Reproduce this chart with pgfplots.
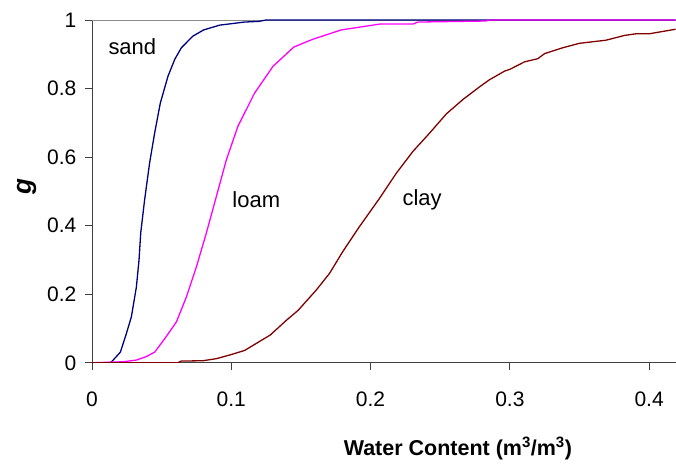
\documentclass[border=0pt]{standalone}
\usepackage{pgfplots}
\pgfplotsset{compat=1.18}
\usepackage{fontspec}
\setmainfont{Liberation Sans}
\usetikzlibrary{calc}
\definecolor{sandc}{RGB}{0,0,128}
\definecolor{loamc}{RGB}{255,0,255}
\definecolor{clayc}{RGB}{128,0,0}
\begin{document}
\begin{tikzpicture}
\begin{axis}[
  scale only axis, width=584pt, height=343pt,
  xmin=0, xmax=0.419, ymin=0, ymax=1,
  axis x line*=bottom, axis y line*=left,
  axis line style={black!75, line width=0.8pt},
  xtick={0,0.1,0.2,0.3,0.4}, xticklabels={0,0.1,0.2,0.3,0.4},
  ytick={0,0.2,0.4,0.6,0.8,1}, yticklabels={0,0.2,0.4,0.6,0.8,1},
  tick align=outside, major tick length=7pt,
  tick style={black!75, line width=0.8pt},
  ticklabel style={font=\fontsize{21}{24}\selectfont},
  xticklabel style={yshift=-19pt},
  yticklabel style={xshift=-5pt},
  xlabel={\textbf{Water Content (m\textsuperscript{3}/m\textsuperscript{3})}},
  xlabel style={at={(axis description cs:0.627,-0.25)}, anchor=center, font=\fontsize{21.5}{24}\selectfont},
  ylabel={\textbf{\textit{g}}},
  ylabel style={at={(axis description cs:-0.112,0.513)}, anchor=center, rotate=0, font=\fontsize{26}{30}\selectfont},
  clip=true,
]
\draw[black!45, line width=0.8pt] (axis cs:0,1) -- (axis cs:0.419,1);
\addplot[sandc, line width=1.3pt] coordinates {
(0,0) (0.012,0) (0.0139,0.002) (0.0204,0.031) (0.0247,0.085) (0.0283,0.134) (0.0319,0.221) (0.0338,0.30) (0.035,0.378) (0.0378,0.475) (0.0414,0.583) (0.045,0.670) (0.0491,0.758) (0.0546,0.836) (0.0594,0.885) (0.0642,0.919) (0.0725,0.953) (0.0802,0.971) (0.0917,0.985) (0.1096,0.994) (0.120,0.996) (0.125,1) (0.42,1)
};
\addplot[loamc, line width=1.3pt] coordinates {
(0,0) (0.0223,0.003) (0.032,0.008) (0.039,0.018) (0.045,0.031) (0.0522,0.070) (0.0606,0.119) (0.0678,0.192) (0.075,0.280) (0.0821,0.378) (0.0893,0.485) (0.0965,0.592) (0.1048,0.690) (0.1168,0.787) (0.130,0.865) (0.1449,0.921) (0.1587,0.944) (0.179,0.971) (0.2065,0.988) (0.2305,0.988) (0.234,0.994) (0.283,0.997) (0.285,1) (0.42,1)
};
\addplot[clayc, line width=1.3pt] coordinates {
(0,0) (0.0617,0) (0.064,0.005) (0.0797,0.006) (0.0893,0.012) (0.100,0.024) (0.1096,0.036) (0.128,0.081) (0.1396,0.124) (0.148,0.153) (0.161,0.212) (0.1706,0.261) (0.180,0.324) (0.192,0.397) (0.2065,0.480) (0.2185,0.553) (0.2305,0.617) (0.2424,0.670) (0.2544,0.726) (0.2663,0.768) (0.2783,0.805) (0.2855,0.826) (0.2963,0.851) (0.300,0.856) (0.3106,0.878) (0.320,0.887) (0.325,0.902) (0.338,0.919) (0.350,0.932) (0.369,0.941) (0.3824,0.955) (0.391,0.960) (0.4004,0.960) (0.419,0.973)
};
\node[font=\fontsize{22}{25}\selectfont] at (axis cs:0.029,0.923) {sand};
\node[font=\fontsize{22}{25}\selectfont] at (axis cs:0.118,0.475) {loam};
\node[font=\fontsize{22}{25}\selectfont] at (axis cs:0.237,0.475) {clay};
\end{axis}
\path[use as bounding box] ($(current axis.south west)+(-92pt,-100pt)$) rectangle ($(current axis.north east)+(0pt,20pt)$);
\end{tikzpicture}
\end{document}
